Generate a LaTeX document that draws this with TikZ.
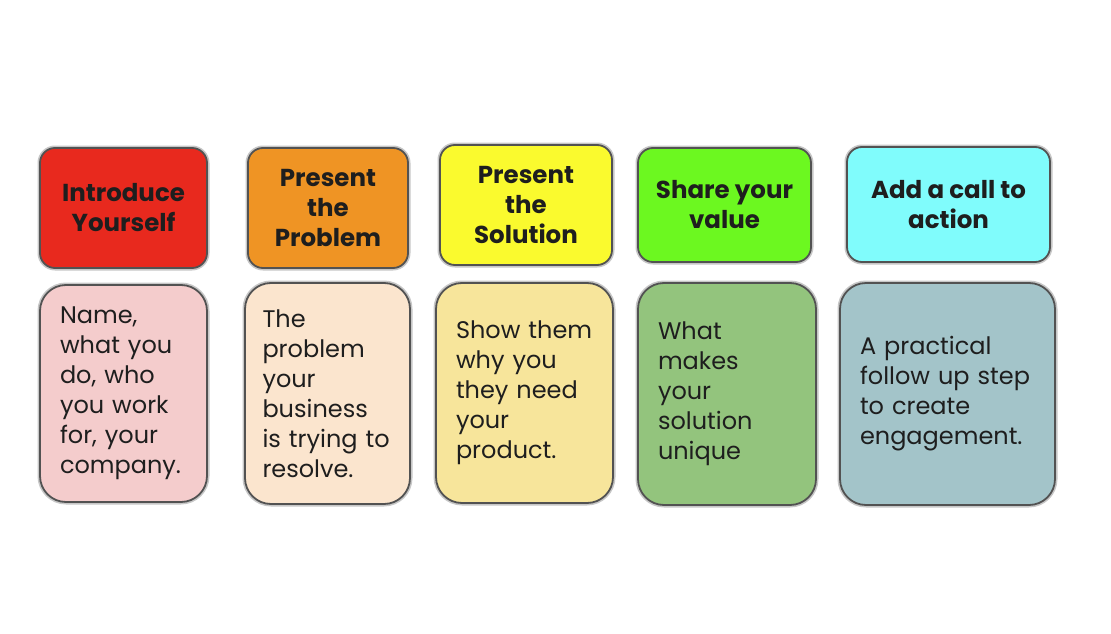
\documentclass[tikz,border=0pt]{standalone}
\usepackage{fontspec}
\setmainfont{Poppins}
\usepackage{tikz}
\usetikzlibrary{shapes}

\definecolor{introred}{HTML}{E8291E}
\definecolor{problemorange}{HTML}{EF9424}
\definecolor{solutionyellow}{HTML}{FAFA2E}
\definecolor{valuegreen}{HTML}{6CF820}
\definecolor{actioncyan}{HTML}{80FCFC}
\definecolor{intropink}{HTML}{F4CCCC}
\definecolor{problempeach}{HTML}{FBE5CE}
\definecolor{solutionsand}{HTML}{F7E59B}
\definecolor{valuesage}{HTML}{93C47D}
\definecolor{actionslate}{HTML}{A3C4C9}
\definecolor{inkgrey}{HTML}{1E1E1E}

\tikzset{
    card/.style={draw=black!68, line width=1.8pt, rectangle,
        preaction={draw=black!22, line width=5pt},
        text=inkgrey, inner sep=0pt},
    heading/.style={card, rounded corners=15pt, align=center,
        font=\fontsize{24.5}{30}\selectfont\bfseries},
    detail/.style={card, rounded corners=26pt, align=left, inner xsep=20pt,
        font=\fontsize{24}{30}\selectfont}
}

\begin{document}
\begin{tikzpicture}[x=1pt, y=-1pt]
    \useasboundingbox[fill=white] (0,0) rectangle (1111,634);

    % Define heading nodes
    \node[heading, fill=introred, minimum width=167pt, minimum height=120pt] at (123.5, 208) (intro) {Introduce\\Yourself};
    \node[heading, fill=problemorange, minimum width=160pt, minimum height=120pt] at (328, 208) (problem) {Present\\the\\Problem};
    \node[heading, fill=solutionyellow, minimum width=172pt, minimum height=120pt] at (526, 205) (solution) {Present\\the\\Solution};
    \node[heading, fill=valuegreen, minimum width=173pt, minimum height=114pt] at (724.5, 205) (value) {Share your\\value};
    \node[heading, fill=actioncyan, minimum width=203pt, minimum height=115pt] at (948.5, 204.5) (action) {Add a call to\\action};

    % Define detail nodes
    \node[detail, fill=intropink, text width=127pt, minimum width=167pt, minimum height=217pt] at (123.5, 393.5) (intro text) {Name,\\what you\\do, who\\you work\\for, your\\company.};
    \node[detail, fill=problempeach, inner xsep=17.5pt, text width=130pt, minimum width=165pt, minimum height=221pt] at (327.5, 393.5) (problem text) {The\\problem\\your\\business\\is trying to\\resolve.};
    \node[detail, fill=solutionsand, text width=137pt, minimum width=177pt, minimum height=220pt] at (524.5, 393) (solution text) {Show them\\why you\\they need\\your\\product.};
    \node[detail, fill=valuesage, text width=138pt, minimum width=178pt, minimum height=222pt] at (727, 394) (value text) {What\\makes\\your\\solution\\unique};
    \node[detail, fill=actionslate, text width=175pt, minimum width=215pt, minimum height=222pt] at (947.5, 394) (action text) {A practical\\follow up step\\to create\\engagement.};
\end{tikzpicture}
\end{document}
